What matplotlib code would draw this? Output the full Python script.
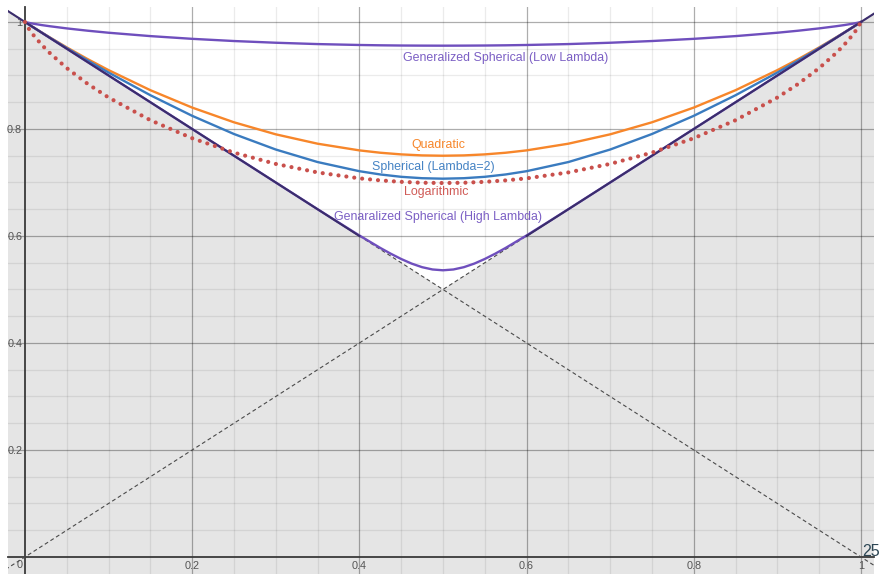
import matplotlib.pyplot as plt

plt.rcParams['font.family'] = ['Liberation Sans', 'DejaVu Sans']

# forecast probability (x) and expected score of each scoring rule (y)
p = [0, 0.005, 0.01, 0.02, 0.03, 0.05, 0.075, 0.1, 0.15, 0.2, 0.25, 0.3, 0.35, 0.4, 0.425, 0.45, 0.475, 0.5,
     0.525, 0.55, 0.575, 0.6, 0.65, 0.7, 0.75, 0.8, 0.85, 0.9, 0.925, 0.95, 0.97, 0.98, 0.99, 0.995, 1]
quadratic = [1, 0.9950, 0.9901, 0.9804, 0.9709, 0.9525, 0.9306, 0.91, 0.8725, 0.84, 0.8125, 0.79, 0.7725,
             0.76, 0.7556, 0.7525, 0.7506, 0.75,
             0.7506, 0.7525, 0.7556, 0.76, 0.7725, 0.79, 0.8125, 0.84, 0.8725, 0.91, 0.9306, 0.9525,
             0.9709, 0.9804, 0.9901, 0.9950, 1]
spherical = [1, 0.9950, 0.9900, 0.9802, 0.9705, 0.9513, 0.9280, 0.9055, 0.8631, 0.8246, 0.7906, 0.7616,
             0.7382, 0.7211, 0.7150, 0.7106, 0.7080, 0.7071,
             0.7080, 0.7106, 0.7150, 0.7211, 0.7382, 0.7616, 0.7906, 0.8246, 0.8631, 0.9055, 0.9280,
             0.9513, 0.9705, 0.9802, 0.9900, 0.9950, 1]
logarithmic = [1, 0.9863, 0.9757, 0.9574, 0.9415, 0.9138, 0.8843, 0.8588, 0.8164, 0.7827, 0.7558, 0.7347,
               0.7188, 0.7077, 0.7039, 0.7012, 0.6995, 0.6990,
               0.6995, 0.7012, 0.7039, 0.7077, 0.7188, 0.7347, 0.7558, 0.7827, 0.8164, 0.8588, 0.8843,
               0.9138, 0.9415, 0.9574, 0.9757, 0.9863, 1]
gen_low = [1, 0.9982, 0.9968, 0.9942, 0.9920, 0.9880, 0.9837, 0.9799, 0.9736, 0.9685, 0.9644, 0.9612,
           0.9587, 0.9570, 0.9564, 0.9560, 0.9558, 0.9557,
           0.9558, 0.9560, 0.9564, 0.9570, 0.9587, 0.9612, 0.9644, 0.9685, 0.9736, 0.9799, 0.9837,
           0.9880, 0.9920, 0.9942, 0.9968, 0.9982, 1]

p_high = [0, 0.1, 0.2, 0.3, 0.35, 0.375, 0.4, 0.425, 0.4375, 0.45, 0.4625, 0.475, 0.4875, 0.5,
          0.5125, 0.525, 0.5375, 0.55, 0.5625, 0.575, 0.6, 0.625, 0.65, 0.7, 0.8, 0.9, 1]
gen_high = [1, 0.9, 0.8, 0.7, 0.6501, 0.6254, 0.6010, 0.5777, 0.5669, 0.5570, 0.5484, 0.5417, 0.5374,
            0.5359, 0.5374, 0.5417, 0.5484, 0.5570, 0.5669, 0.5777, 0.6010, 0.6254, 0.6501, 0.7, 0.8,
            0.9, 1]

# reference lines y = x and y = 1 - x, and the shaded region under them
diag_x = [-0.03, 1.03]
rise_y = [-0.03, 1.03]
fall_y = [1.03, -0.03]
shade_x = [-0.03, 0.5, 1.03]
shade_y = [1.03, 0.5, 1.03]
edge_left_x, edge_left_y = [-0.03, 0.4], [1.03, 0.6]
edge_right_x, edge_right_y = [0.6, 1.03], [0.6, 1.03]

ticks = [0.2, 0.4, 0.6, 0.8, 1]
tick_labels = ['0.2', '0.4', '0.6', '0.8', '1']
minor_ticks = [0.05, 0.1, 0.15, 0.25, 0.3, 0.35, 0.45, 0.5, 0.55, 0.65, 0.7, 0.75, 0.85, 0.9, 0.95]

labels = ['Generalized Spherical (Low Lambda)', 'Quadratic', 'Spherical (Lambda=2)', 'Logarithmic',
          'Genaralized Spherical (High Lambda)']
label_x = [0.575, 0.494, 0.489, 0.492, 0.494]
label_y = [0.933, 0.770, 0.729, 0.682, 0.636]

c_orange = '#f7862a'
c_blue = '#3a7bbf'
c_red = '#c9504c'
c_purple = '#6f4fbd'
c_navy = '#3b2d6c'
label_colors = ['#7b5fc4', c_orange, '#4583c4', '#d05a56', '#7b5fc4']

fig = plt.figure(figsize=(8.8, 5.74), dpi=100)
ax = fig.add_axes([8 / 880, 0, 866 / 880, 567 / 574])

ax.fill_between(shade_x, shade_y, -0.1, color='#e5e5e5', lw=0, zorder=0.1)

ax.set_xticks(ticks)
ax.set_yticks(ticks)
ax.set_xticks(minor_ticks, minor=True)
ax.set_yticks(minor_ticks, minor=True)
ax.set_axisbelow(True)
ax.grid(which='major', color='black', alpha=0.32, lw=0.9)
ax.grid(which='minor', color='black', alpha=0.08, lw=0.9)

for s in ['top', 'right']:
    ax.spines[s].set_visible(False)
ax.spines['left'].set_position(('data', 0))
ax.spines['bottom'].set_position(('data', 0))
for s in ['left', 'bottom']:
    ax.spines[s].set_color('#3a3a3a')
    ax.spines[s].set_linewidth(1.3)
    ax.spines[s].set_zorder(1.5)
ax.tick_params(which='both', length=0, labelsize=7.8, labelcolor='#555555')
ax.tick_params(axis='x', pad=3)
ax.tick_params(axis='y', pad=2)
ax.set_xticklabels(tick_labels)
ax.set_yticklabels(tick_labels)
ax.text(-0.003, -0.006, '0', ha='right', va='top', fontsize=7.8, color='#555555')

ax.plot(diag_x, rise_y, color='#4a4a4a', lw=0.8, ls=(0, (3.5, 2.5)), zorder=2)
ax.plot(diag_x, fall_y, color='#4a4a4a', lw=0.8, ls=(0, (3.5, 2.5)), zorder=2)

ax.plot(p, gen_low, color=c_purple, lw=1.7, zorder=3)
ax.plot(p, quadratic, color=c_orange, lw=1.7, zorder=3)
ax.plot(p, spherical, color=c_blue, lw=1.7, zorder=3)
ax.plot(p_high, gen_high, color=c_purple, lw=1.7, zorder=3)
ax.plot(edge_left_x, edge_left_y, color=c_navy, lw=1.5, zorder=4)
ax.plot(edge_right_x, edge_right_y, color=c_navy, lw=1.5, zorder=4)
ax.plot(p, logarithmic, color=c_red, lw=3, ls=(0, (0.01, 1.9)), dash_capstyle='round', zorder=5)

for txt, x, y, c in zip(labels, label_x, label_y, label_colors):
    ax.text(x, y, txt, ha='center', va='center', fontsize=8.9, color=c, zorder=6)

ax.text(1.012, 0.011, '25', ha='center', va='center', fontsize=11.5, color='#2c4654', zorder=6, clip_on=False)

# limits last, since set_xticks can widen them
ax.set_xlim(-0.0203, 1.0156)
ax.set_ylim(-0.0318, 1.028)

fig.savefig('out.png', dpi=100)
